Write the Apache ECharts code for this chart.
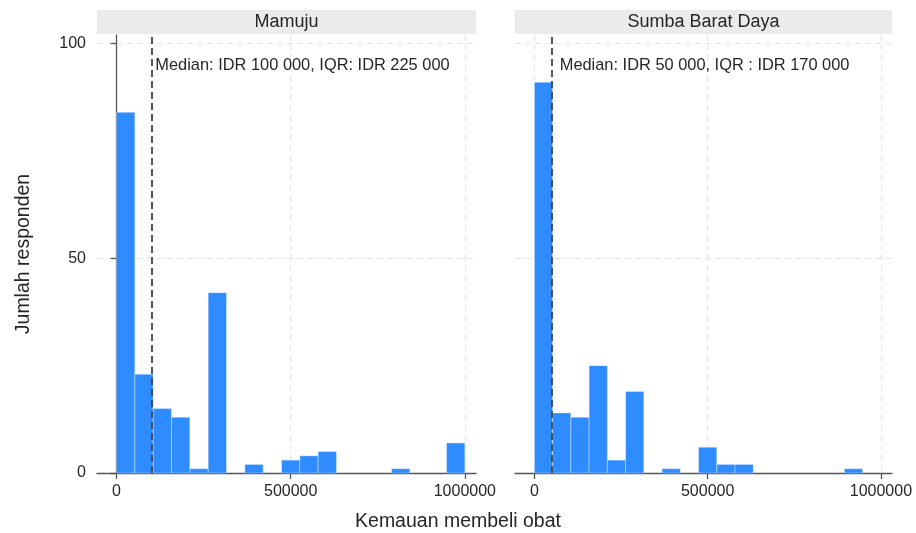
<!DOCTYPE html>
<html>
<head>
<meta charset="utf-8">
<script src="https://cdn.jsdelivr.net/npm/echarts@6/dist/echarts.min.js"></script>
<style>
  html, body { margin: 0; padding: 0; background: #ffffff; }
  #chart { width: 916px; height: 533px; }
</style>
</head>
<body>
<div id="chart"></div>
<script>
// Histogram of willingness to pay, 19 equal bins from 0 to 1 000 000 IDR
const binMin = 0;
const binMax = 1000000;
const binCount = 19;

const panelNames = ['Mamuju', 'Sumba Barat Daya'];
const countsMamuju = [84, 23, 15, 13, 1, 42, 0, 2, 0, 3, 4, 5, 0, 0, 0, 1, 0, 0, 7];
const countsSumba  = [91, 14, 13, 25, 3, 19, 0, 1, 0, 6, 2, 2, 0, 0, 0, 0, 0, 1, 0];
const medians = [100000, 50000];
const medianTexts = ['Median: IDR 100 000, IQR: IDR 225 000', 'Median: IDR 50 000, IQR : IDR 170 000'];
const xTicks = [0, 500000, 1000000];
const yTicks = [0, 50, 100];
const xTitle = 'Kemauan membeli obat';
const yTitle = 'Jumlah responden';

const FONT = '"Liberation Sans", Arial, sans-serif';
const BAR = '#2f8cff';
const AXIS = '#555555';
const TEXT = '#262626';
const GRIDLINE = '#e6e6e6';

const binWidth = (binMax - binMin) / binCount;
function binRows(counts) {
  return counts.map((c, i) => [binMin + i * binWidth, binMin + (i + 1) * binWidth, c]);
}

const grids = [
  { left: 97, width: 379, top: 35, height: 438 },
  { left: 515, width: 377, top: 35, height: 438 }
];

function xAxisFor(i) {
  return {
    type: 'value', gridIndex: i, min: -56000, max: 1032000,
    axisLine: { show: true, onZero: false, lineStyle: { color: AXIS, width: 1.3 } },
    axisTick: { show: true, length: 6, customValues: xTicks, lineStyle: { color: AXIS, width: 1.3 } },
    axisLabel: {
      customValues: xTicks, color: TEXT, fontFamily: FONT, fontSize: 16, margin: 11,
      formatter: v => String(v)
    },
    splitLine: { show: true, lineStyle: { color: GRIDLINE, type: [6, 4], width: 1 } }
  };
}
function yAxisFor(i) {
  const showAxis = i === 0;
  return {
    type: 'value', gridIndex: i, min: 0, max: 102,
    axisLine: { show: showAxis, lineStyle: { color: AXIS, width: 1.3 } },
    axisTick: { show: showAxis, length: 6, customValues: yTicks, lineStyle: { color: AXIS, width: 1.3 } },
    axisLabel: { show: showAxis, customValues: yTicks, color: TEXT, fontFamily: FONT, fontSize: 16, margin: 11 },
    splitLine: { show: true, lineStyle: { color: GRIDLINE, type: [6, 4], width: 1 } },
    name: showAxis ? yTitle : '',
    nameLocation: 'middle', nameGap: 63, nameRotate: 90,
    nameTextStyle: { color: TEXT, fontFamily: FONT, fontSize: 19.5 }
  };
}

function histSeries(i, counts) {
  return {
    type: 'custom', xAxisIndex: i, yAxisIndex: i, z: 3,
    data: binRows(counts),
    renderItem: function (params, api) {
      const count = api.value(2);
      if (!count) return null;
      const topLeft = api.coord([api.value(0), count]);
      const bottomRight = api.coord([api.value(1), 0]);
      return {
        type: 'rect',
        shape: { x: topLeft[0], y: topLeft[1], width: bottomRight[0] - topLeft[0], height: bottomRight[1] - topLeft[1] },
        style: { fill: BAR, stroke: 'rgba(255,255,255,0.35)', lineWidth: 1 }
      };
    }
  };
}

function medianSeries(i, gap) {
  return {
    type: 'line', xAxisIndex: i, yAxisIndex: i, data: [], z: 4,
    markLine: {
      silent: true, symbol: 'none', animation: false,
      lineStyle: { color: '#444444', type: [7, 4], width: 1.8 },
      label: { show: false },
      data: [{ xAxis: medians[i] }]
    },
    markPoint: {
      silent: true, symbol: 'circle', symbolSize: 0, animation: false,
      label: {
        show: true, position: 'right', distance: gap,
        formatter: medianTexts[i], color: TEXT, fontFamily: FONT, fontSize: 16.4
      },
      data: [{ coord: [medians[i], 95] }]
    }
  };
}

const chart = echarts.init(document.getElementById('chart'), null, { renderer: 'canvas' });

const stripGraphics = grids.map((g, i) => ({
  type: 'group', left: g.left, top: 10,
  children: [
    { type: 'rect', shape: { x: 0, y: 0, width: g.width, height: 24 }, style: { fill: '#ebebeb' } },
    { type: 'text', x: g.width / 2, y: 12,
      style: { text: panelNames[i], fill: TEXT, font: '18px ' + FONT, textAlign: 'center', textVerticalAlign: 'middle' } }
  ]
}));

chart.setOption({
  animation: false,
  backgroundColor: '#ffffff',
  grid: grids,
  xAxis: [xAxisFor(0), xAxisFor(1)],
  yAxis: [yAxisFor(0), yAxisFor(1)],
  series: [
    histSeries(0, countsMamuju),
    histSeries(1, countsSumba),
    medianSeries(0, 4),
    medianSeries(1, 8)
  ],
  graphic: stripGraphics.concat([
    { type: 'text', left: 'center', top: 512,
      style: { text: xTitle, fill: TEXT, font: '19.5px ' + FONT } }
  ])
});
</script>
</body>
</html>
